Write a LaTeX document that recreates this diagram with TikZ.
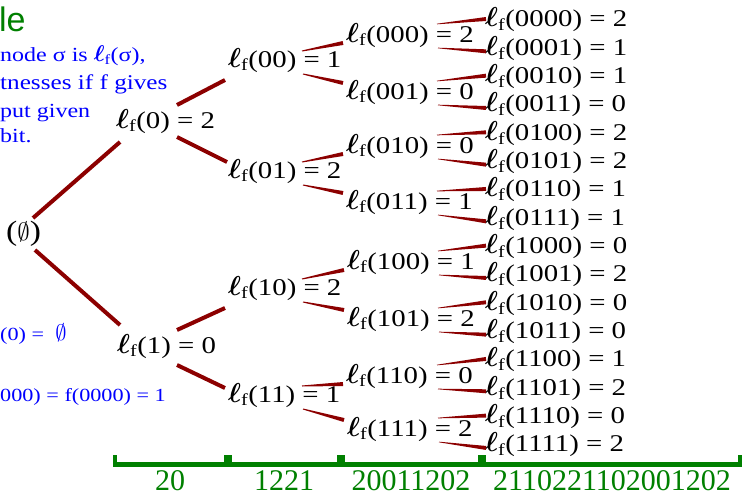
\documentclass[tikz,border=0pt]{standalone}
\usepackage{amsmath,bm}
\usepackage{fontspec}
\setmainfont{Liberation Serif}[FakeStretch=1.2]
\newfontfamily\gfont{Liberation Serif}
\newfontfamily\hfont{Liberation Sans}
\usetikzlibrary{calc}
\definecolor{wire}{RGB}{140,0,0}
\definecolor{grn}{RGB}{0,128,0}
\definecolor{blu}{RGB}{0,0,255}
\newcommand\lf{\scalebox{1.1}{$\bm{\ell}$}$_{\textrm{f}}$}
% tapered connector: parent, dx, dy, child, dx, dy, half width start, half width end
\newcommand\edge[8]{\fill[wire] let \p1=($(#1.west)+(#2,#3)$), \p2=($(#4.west)+(#5,#6)$),
  \n1={atan2(\y2-\y1,\x2-\x1)} in
  ($(\p1)+(\n1+90:#7)$) -- ($(\p2)+(\n1+90:#8)$) -- ($(\p2)+(\n1-90:#8)$) -- ($(\p1)+(\n1-90:#7)$) -- cycle;}
\tikzset{
  tn/.style={anchor=west, inner sep=0pt, text height=18pt, text depth=6pt,
    font=\fontsize{24}{26}\selectfont},
  bt/.style={anchor=base west, inner sep=0pt, text=blu, font=\fontsize{20}{22}\selectfont},
  bts/.style={bt, font=\fontsize{18.5}{20}\selectfont},
  brk/.style={grn, line width=4.5pt},
  glab/.style={anchor=base, inner sep=0pt, text depth=0pt, text=grn, font=\gfont\fontsize{30}{32}\selectfont},
}
\begin{document}
\begin{tikzpicture}[x=1pt,y=-1pt]
\useasboundingbox (0,0) rectangle (743,495);
\clip (0,0) rectangle (743,495);
% left texts
\node[anchor=base west, inner sep=0pt, text=grn, font=\hfont\fontsize{34}{36}\selectfont] (title) at (-1,32) {le};
\node[bt] (b1) at (0,61) {node σ is \lf(σ),};
\node[bt, font=\fontsize{21}{22}\selectfont] (b2) at (0,89) {tnesses if f gives};
\node[bt] (b3) at (0,117) {put given};
\node[bt] (b4) at (0,142) {bit.};
\node[bts] (b5) at (0,340) {(0) =\ \ \scalebox{1.3}{$\emptyset$}};
\node[bts] (b6) at (0,401) {000) = f(0000) = 1};
% tree nodes
\node[tn, font=\fontsize{28}{30}\selectfont, text height=20pt, text depth=7pt] (r) at (6,234) {($\emptyset$)};
\node[tn] (n0) at (116,122) {\lf(0) = 2};
\node[tn] (n1) at (117,347) {\lf(1) = 0};
\node[tn] (n00) at (228,61) {\lf(00) = 1};
\node[tn] (n01) at (228,172) {\lf(01) = 2};
\node[tn] (n10) at (228,289) {\lf(10) = 2};
\node[tn] (n11) at (228,396) {\lf(11) = 1};
\node[tn] (n000) at (346,36) {\lf(000) = 2};
\node[tn] (n001) at (346,93) {\lf(001) = 0};
\node[tn] (n010) at (346,147) {\lf(010) = 0};
\node[tn] (n011) at (346,203) {\lf(011) = 1};
\node[tn] (n100) at (347,263) {\lf(100) = 1};
\node[tn] (n101) at (347,320) {\lf(101) = 2};
\node[tn] (n110) at (346,377) {\lf(110) = 0};
\node[tn] (n111) at (347,430) {\lf(111) = 2};
\foreach \s/\v [count=\k from 0] in {0000/2,0001/1,0010/1,0011/0,0100/2,0101/2,0110/1,0111/1,1000/0,1001/2,1010/0,1011/0,1100/1,1101/2,1110/0,1111/2}
  \node[tn] (l\s) at (485,{21+28.33*\k}) {\lf(\s) = \v};
% connectors
\edge{r}{27}{-16}{n0}{4}{20}{2pt}{2pt}
\edge{r}{29}{16}{n1}{3}{-22}{2pt}{2pt}
\edge{n0}{61}{-17}{n00}{-3}{19}{2pt}{2pt}
\edge{n0}{61}{15}{n01}{-1}{-10}{2pt}{2pt}
\edge{n1}{60}{-17}{n10}{-3}{19}{2pt}{2pt}
\edge{n1}{60}{18}{n11}{-3}{-8}{2pt}{2pt}
\foreach \ia in {0,1}{
  \foreach \ib in {0,1}{
    \edge{n\ia\ib}{74}{-10}{n\ia\ib0}{-3}{7}{0.5pt}{2pt}
    \edge{n\ia\ib}{75}{13}{n\ia\ib1}{-3}{-10}{0.5pt}{2pt}
    \foreach \ic in {0,1}{
      \edge{n\ia\ib\ic}{91}{-12}{l\ia\ib\ic0}{1}{-2}{0.3pt}{2pt}
      \edge{n\ia\ib\ic}{92}{12}{l\ia\ib\ic1}{1}{2}{0.3pt}{2pt}
    }
  }
}
% brackets
\draw[brk] (115,455) -- (115,464.5) -- (226,464.5) -- (226,455);
\draw[brk] (230,455) -- (230,464.5) -- (339,464.5) -- (339,455);
\draw[brk] (343,455) -- (343,464.5) -- (480,464.5) -- (480,455);
\draw[brk] (484,455) -- (484,464.5) -- (740,464.5) -- (740,455);
\node[glab] (g1) at (170,490) {20};
\node[glab] (g2) at (284,490) {1221};
\node[glab] (g3) at (411,490) {20011202};
\node[glab] (g4) at (612,490) {2110221102001202};
\end{tikzpicture}
\end{document}
